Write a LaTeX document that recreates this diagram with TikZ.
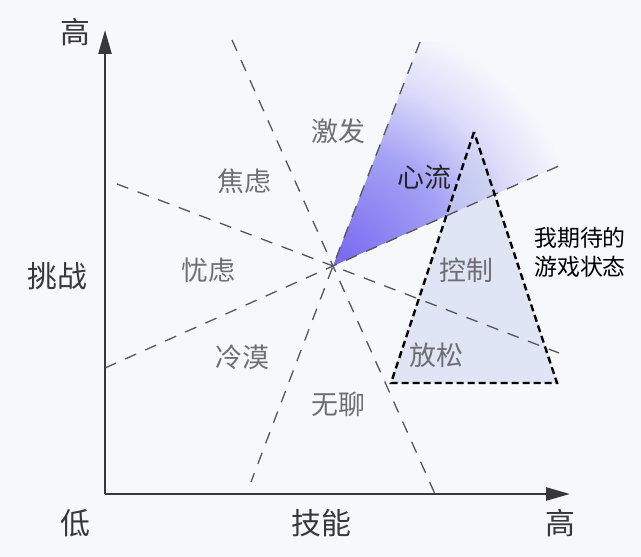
\documentclass[tikz,border=0pt]{standalone}
\usepackage{fontspec}
\setmainfont{Noto Sans CJK SC}
\usetikzlibrary{arrows.meta}
\definecolor{bgc}{RGB}{247,248,252}
\definecolor{axisc}{RGB}{55,55,60}
\definecolor{dashc}{RGB}{85,85,90}
\definecolor{labc}{RGB}{110,110,115}
\definecolor{trifill}{RGB}{205,215,238}
\pgfdeclareradialshading{flowshade}{\pgfpoint{0bp}{0bp}}{%
  rgb(0bp)=(0.46,0.40,0.94);
  rgb(10bp)=(0.64,0.63,0.96);
  rgb(16bp)=(0.86,0.86,0.98);
  rgb(21bp)=(0.969,0.973,0.988);
  rgb(50bp)=(0.969,0.973,0.988)}
\tikzset{
  axisline/.style={draw=axisc, line width=2.4bp, -{Triangle[length=24bp,width=13bp]}},
  zoneline/.style={draw=dashc, line width=1.3bp, dash pattern=on 12bp off 10bp},
  trioutline/.style={draw=black, line width=2.4bp, dash pattern=on 7bp off 4bp, line join=miter},
  zonelabel/.style={text=labc, font=\fontsize{27}{30}\selectfont, inner sep=0pt},
  axislabel/.style={text=axisc, font=\fontsize{30}{34}\selectfont, inner sep=0pt},
  notelabel/.style={text=black, font=\fontsize{23}{29}\selectfont, inner sep=0pt, align=center}
}
\begin{document}
\begin{tikzpicture}[x=1bp,y=-1bp]
\fill[bgc] (0,0) rectangle (641,557);
\useasboundingbox (0,0) rectangle (641,557);
% key points
\coordinate (C) at (333,266);
\coordinate (a1) at (232,40);
\coordinate (a2) at (435,494);
\coordinate (b1) at (420,42);
\coordinate (b2) at (251,482);
\coordinate (c1) at (117,184);
\coordinate (c2) at (559,353);
\coordinate (d1) at (105,368);
\coordinate (d2) at (561,165);
\coordinate (O) at (105,494);
\coordinate (ytip) at (105,30);
\coordinate (xtip) at (570,494);
\coordinate (t1) at (474,132);
\coordinate (t2) at (391,383);
\coordinate (t3) at (557,383);
% flow wedge
\begin{scope}
  \clip (C) -- (b1) -- (561,42) -- (d2) -- cycle;
  \shade[shading=flowshade] (C) circle (300);
\end{scope}
% expected-state triangle fill
\fill[trifill, fill opacity=0.55] (t1) -- (t2) -- (t3) -- cycle;
% zone dividers
\draw[zoneline] (a1) -- (C) -- (a2);
\draw[zoneline] (b1) -- (C) -- (b2);
\draw[zoneline] (c1) -- (C) -- (c2);
\draw[zoneline] (d1) -- (C) -- (d2);
% triangle outline
\draw[trioutline] (t1) -- (t2) -- (t3) -- cycle;
% axes
\draw[axisline] (O) -- (ytip);
\draw[axisline] (O) -- (xtip);
% axis labels
\node[axislabel] (yhigh) at (75,32) {高};
\node[axislabel] (ytitle) at (57,276) {挑战};
\node[axislabel] (low) at (75,523) {低};
\node[axislabel] (xtitle) at (321,523) {技能};
\node[axislabel] (xhigh) at (560,523) {高};
% zone labels
\node[zonelabel] (arousal) at (338,131) {激发};
\node[zonelabel] (anxiety) at (244,181) {焦虑};
\node[zonelabel] (worry) at (208,270) {忧虑};
\node[zonelabel, text=black!85] (flow) at (424,177) {心流};
\node[zonelabel] (control) at (466,270) {控制};
\node[zonelabel] (apathy) at (242,357) {冷漠};
\node[zonelabel] (relax) at (436,355) {放松};
\node[zonelabel] (boredom) at (338,404) {无聊};
\node[notelabel] (note) at (580,252) {我期待的\\游戏状态};
\end{tikzpicture}
\end{document}
